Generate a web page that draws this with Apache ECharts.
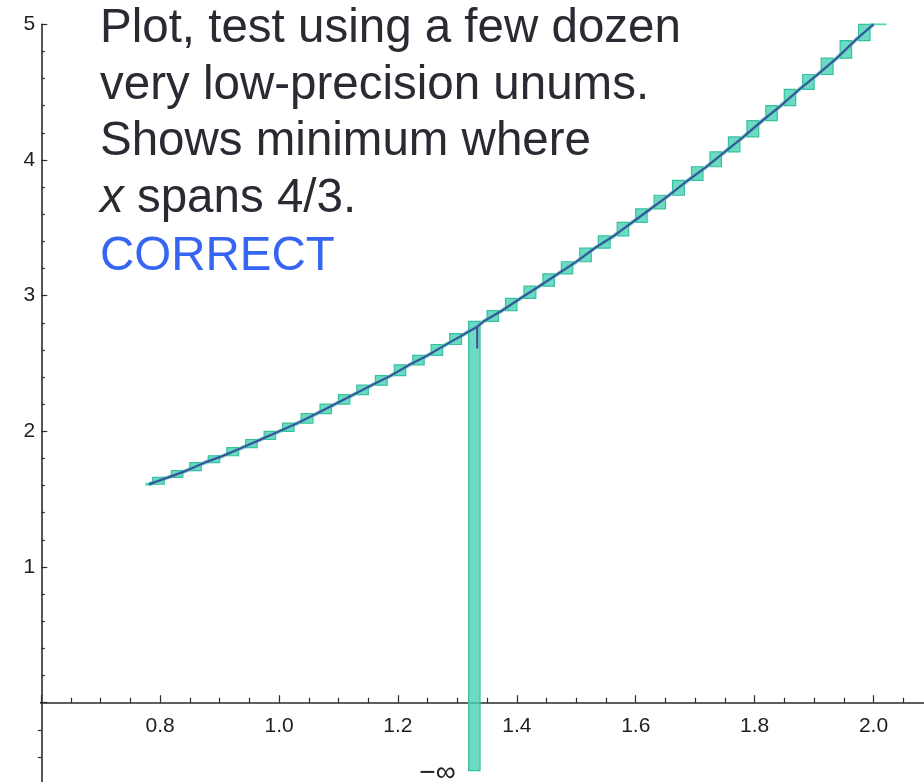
<!DOCTYPE html>
<html>
<head>
<meta charset="utf-8">
<script src="https://cdn.jsdelivr.net/npm/echarts@6/dist/echarts.min.js"></script>
<style>
  html, body { margin: 0; padding: 0; background: #ffffff; }
  #chart { width: 924px; height: 782px; }
</style>
</head>
<body>
<div id="chart"></div>
<script>
// Unum cell boundaries along x (steps of 1/32) and the function value at each boundary
const cellEdgesX = [0.781, 0.813, 0.844, 0.875, 0.906, 0.938, 0.969, 1.0,
                    1.031, 1.063, 1.094, 1.125, 1.156, 1.188, 1.219, 1.25,
                    1.281, 1.313, 1.344, 1.375, 1.406, 1.438, 1.469, 1.5,
                    1.531, 1.563, 1.594, 1.625, 1.656, 1.688, 1.719, 1.75,
                    1.781, 1.813, 1.844, 1.875, 1.906, 1.938, 1.969, 2.0];
const cellEdgesY = [1.61, 1.66, 1.71, 1.77, 1.82, 1.88, 1.94, 2.0,
                    2.06, 2.13, 2.2, 2.27, 2.34, 2.41, 2.49, 2.56,
                    2.64, 2.72, 2.81, 2.89, 2.98, 3.07, 3.16, 3.25,
                    3.35, 3.44, 3.54, 3.64, 3.74, 3.85, 3.95, 4.06,
                    4.17, 4.29, 4.4, 4.52, 4.63, 4.75, 4.88, 5.0];

// The cell that spans 4/3 evaluates down to minus infinity
const singularX = 1.3333;
const singularTop = 2.77;    // curve value where the spike starts
const singularDip = 2.61;    // lowest point of the spike on the plotted curve
const minusInfY = -0.5;      // level where the -inf bar is cut off

// Short flat ends of the unum plot
const leftTailX = [0.775, 0.787];
const leftTailY = 1.61;
const rightTailX = [1.994, 2.022];
const rightTailY = 5.0;

// Axis tick labels
const xTickLabels = ['0.8', '1.0', '1.2', '1.4', '1.6', '1.8', '2.0'];
const yTickLabels = ['1', '2', '3', '4', '5'];
const axisLeftEnd = 0.553;   // x-axis line reaches a little past the y-axis

// Annotation text
const noteLines = ['Plot, test using a few dozen', 'very low-precision unums.',
                   'Shows minimum where', '{it|x} spans 4/3.'];
const verdict = 'CORRECT';
const minusInfLabel = '\u2212\u221E';

// ---- styling ----
const BOX_FRAC = 0.62;               // drawn width of each open-interval box within its cell
const BOX_FILL = 'rgba(72, 210, 180, 0.8)';
const BOX_STROKE = '#36c0a1';
const CURVE_COLOR = '#3e4c9c';
const AXIS_COLOR = '#2b2b2b';
const NOTE_FONT = '"Liberation Sans", Arial, Helvetica, sans-serif';

// Tick labels use a narrow sans face when one is installed
function fontInstalled(name) {
  const ctx = document.createElement('canvas').getContext('2d');
  const sample = '0.8 1.0 1.2 2.0';
  ctx.font = '40px monospace';
  const base = ctx.measureText(sample).width;
  ctx.font = '40px "' + name + '", monospace';
  return ctx.measureText(sample).width !== base;
}
const narrow = fontInstalled('Liberation Sans Narrow');
const TICK_FONT = narrow ? '"Liberation Sans Narrow", "Liberation Sans", sans-serif'
                         : '"Liberation Sans", Arial, sans-serif';
const TICK_SIZE = narrow ? 22 : 21;

// Cells: [xLo, xHi, yLo, yHi, spansSingularity]
const cells = [];
for (let i = 0; i + 1 < cellEdgesX.length; i++) {
  const sing = cellEdgesX[i] < singularX && singularX < cellEdgesX[i + 1] ? 1 : 0;
  cells.push([cellEdgesX[i], cellEdgesX[i + 1], cellEdgesY[i], cellEdgesY[i + 1], sing]);
}

// Plotted curve through the exact points, with the downward spike at 4/3
const curve = [];
for (let i = 0; i < cellEdgesX.length; i++) {
  curve.push([cellEdgesX[i], cellEdgesY[i]]);
  if (i + 1 < cellEdgesX.length && cellEdgesX[i] < singularX && singularX < cellEdgesX[i + 1]) {
    curve.push([singularX, singularTop], [singularX, singularDip], [singularX, singularTop]);
  }
}

function findLabel(list, v) {
  const hit = list.find(t => Math.abs(parseFloat(t) - v) < 1e-6);
  return hit === undefined ? '' : hit;
}

const chart = echarts.init(document.getElementById('chart'), null, { renderer: 'canvas' });

const noteTop = 1;
const noteLineHeight = 56.5;
const graphics = noteLines.map((line, i) => ({
  type: 'text',
  left: 100,
  top: noteTop + i * noteLineHeight,
  style: {
    text: line,
    font: '47.5px ' + NOTE_FONT,
    fill: '#2a2a33',
    lineHeight: noteLineHeight,
    rich: { it: { fontStyle: 'italic', fontSize: 47.5, fontFamily: NOTE_FONT, fill: '#2a2a33', lineHeight: noteLineHeight } }
  }
}));
graphics.push({
  type: 'text',
  left: 100,
  top: noteTop + noteLines.length * noteLineHeight + 2,
  style: { text: verdict, font: '47.5px ' + NOTE_FONT, fill: '#3565f2', lineHeight: noteLineHeight }
});

const xRange = { min: 0.6, max: 2.09 };

chart.setOption({
  animation: false,
  backgroundColor: '#ffffff',
  grid: [
    // main plot, from y = 0 up to y = 5
    { left: 41.3, top: 24.3, right: -3, bottom: 79.3, containLabel: false, outerBoundsMode: 'none' },
    // continuation of the y-axis below zero
    { left: 41.3, top: 702.7, right: -3, bottom: -56.4, containLabel: false, outerBoundsMode: 'none' }
  ],
  xAxis: [
    {
      type: 'value', gridIndex: 0,
      min: xRange.min, max: xRange.max, interval: 0.2,
      axisLine: { show: true, onZero: false, lineStyle: { color: AXIS_COLOR, width: 1.6 } },
      axisTick: { show: true, inside: true, length: 7.5, lineStyle: { color: AXIS_COLOR, width: 1.2 } },
      minorTick: { show: true, splitNumber: 4, length: 5, lineStyle: { color: AXIS_COLOR, width: 1.2 } },
      splitLine: { show: false },
      minorSplitLine: { show: false },
      axisLabel: {
        show: true, margin: 13, color: '#1e1e1e', fontSize: TICK_SIZE, fontFamily: TICK_FONT,
        showMinLabel: true, showMaxLabel: true, hideOverlap: false,
        formatter: v => findLabel(xTickLabels, v)
      }
    },
    {
      type: 'value', gridIndex: 1, show: false,
      min: xRange.min, max: xRange.max
    }
  ],
  yAxis: [
    {
      type: 'value', gridIndex: 0,
      min: 0, max: 5, interval: 1,
      axisLine: { show: true, onZero: false, lineStyle: { color: AXIS_COLOR, width: 1.6 } },
      axisTick: { show: true, inside: true, length: 6, lineStyle: { color: AXIS_COLOR, width: 1.2 } },
      minorTick: { show: true, splitNumber: 5, length: 3.5, lineStyle: { color: AXIS_COLOR, width: 1.2 } },
      splitLine: { show: false },
      minorSplitLine: { show: false },
      axisLabel: {
        show: true, margin: 6, color: '#1e1e1e', fontSize: TICK_SIZE, fontFamily: TICK_FONT,
        showMinLabel: true, showMaxLabel: true, hideOverlap: false,
        formatter: v => findLabel(yTickLabels, v)
      }
    },
    {
      type: 'value', gridIndex: 1,
      min: -1, max: 0, interval: 1,
      axisLine: { show: true, onZero: false, lineStyle: { color: AXIS_COLOR, width: 1.6 } },
      axisTick: { show: false },
      minorTick: { show: true, splitNumber: 5, length: 3.5, lineStyle: { color: AXIS_COLOR, width: 1.2 } },
      splitLine: { show: false },
      minorSplitLine: { show: false },
      axisLabel: { show: false }
    }
  ],
  graphic: graphics,
  series: [
    {
      // short piece of the x-axis to the left of the y-axis
      type: 'line',
      data: [[axisLeftEnd, 0], [xRange.min, 0]],
      showSymbol: false, silent: true, clip: false,
      lineStyle: { color: AXIS_COLOR, width: 1.6 },
      z: 1
    },
    {
      // thin band joining the interval boxes
      type: 'line',
      data: curve.filter(p => p[0] !== singularX),
      showSymbol: false, silent: true,
      lineStyle: { color: 'rgba(72, 210, 180, 0.75)', width: 4 },
      z: 2
    },
    {
      type: 'line',
      data: [[leftTailX[0], leftTailY], [leftTailX[1], leftTailY]],
      showSymbol: false, silent: true,
      lineStyle: { color: 'rgba(72, 210, 180, 0.9)', width: 3 },
      z: 2
    },
    {
      type: 'line',
      data: [[rightTailX[0], rightTailY], [rightTailX[1], rightTailY]],
      showSymbol: false, silent: true,
      lineStyle: { color: 'rgba(72, 210, 180, 0.9)', width: 2 },
      z: 2
    },
    {
      // open-interval boxes; the one spanning 4/3 drops to -inf
      type: 'custom',
      data: cells,
      silent: true,
      clip: false,
      z: 3,
      renderItem: function (params, api) {
        const xLo = api.value(0), xHi = api.value(1);
        const yLo = api.value(2), yHi = api.value(3);
        const sing = api.value(4) === 1;
        const xc = (xLo + xHi) / 2;
        const hw = (xHi - xLo) * BOX_FRAC / 2;
        const p0 = api.coord([xc - hw, yHi]);
        const p1 = api.coord([xc + hw, sing ? minusInfY : yLo]);
        const children = [{
          type: 'rect',
          shape: { x: p0[0], y: p0[1], width: p1[0] - p0[0], height: p1[1] - p0[1] },
          style: { fill: BOX_FILL, stroke: BOX_STROKE, lineWidth: 1.2 }
        }];
        if (sing) {
          children.push({
            type: 'text',
            style: {
              text: minusInfLabel, x: p0[0] - 13, y: p1[1] + 3,
              align: 'right', verticalAlign: 'middle',
              font: '28px ' + NOTE_FONT, fill: '#222'
            }
          });
        }
        return { type: 'group', children: children };
      }
    },
    {
      // the plotted function itself
      type: 'line',
      data: curve,
      showSymbol: false, silent: true,
      lineStyle: { color: CURVE_COLOR, width: 2 },
      z: 4
    }
  ]
});
</script>
</body>
</html>
